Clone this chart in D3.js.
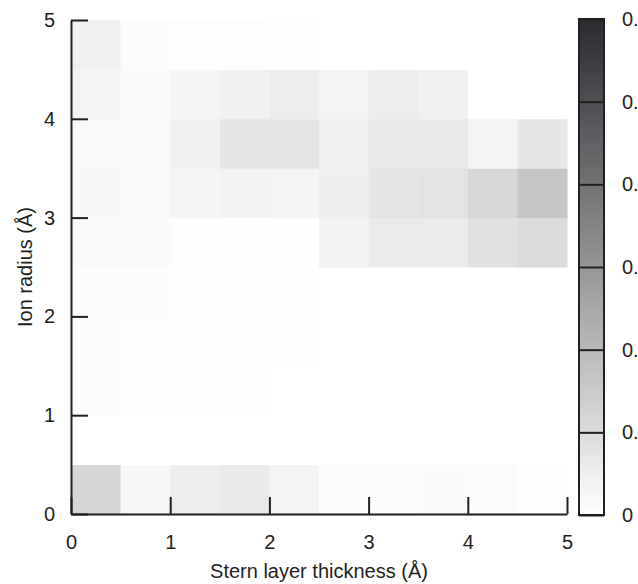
<!DOCTYPE html>
<html>
<head>
<meta charset="utf-8">
<script src="https://cdn.jsdelivr.net/npm/d3@7"></script>
<style>
  html, body { margin: 0; padding: 0; background: #fff; }
  svg { display: block; }
  text { font-family: "Liberation Sans", Arial, Helvetica, sans-serif; fill: #231f20; }
</style>
</head>
<body>
<script>
// bin starts, 0.5 Å wide
const sternThickness = [0, 0.5, 1, 1.5, 2, 2.5, 3, 3.5, 4, 4.5]
const ionRadius = [0, 0.5, 1, 1.5, 2, 2.5, 3, 3.5, 4, 4.5]
// one row per ion radius bin (bottom to top), one column per stern thickness bin
const values = [
    [0.118, 0.023, 0.055, 0.063, 0.034, 0.009, 0.011, 0.014, 0.011, 0.003],
    [0.000, 0.000, 0.000, 0.000, 0.000, 0.000, 0.000, 0.000, 0.000, 0.000],
    [0.009, 0.003, 0.003, 0.006, 0.000, 0.000, 0.000, 0.000, 0.000, 0.000],
    [0.009, 0.006, 0.006, 0.006, 0.003, 0.000, 0.000, 0.000, 0.000, 0.000],
    [0.011, 0.009, 0.006, 0.006, 0.003, 0.000, 0.000, 0.000, 0.000, 0.000],
    [0.017, 0.014, 0.006, 0.006, 0.003, 0.037, 0.060, 0.057, 0.086, 0.100],
    [0.023, 0.020, 0.032, 0.037, 0.032, 0.049, 0.075, 0.080, 0.112, 0.166],
    [0.020, 0.017, 0.043, 0.072, 0.075, 0.046, 0.066, 0.066, 0.034, 0.072],
    [0.034, 0.017, 0.029, 0.043, 0.055, 0.034, 0.055, 0.046, 0.000, 0.000],
    [0.043, 0.011, 0.006, 0.006, 0.003, 0.000, 0.000, 0.000, 0.000, 0.000]
]
const axisTicks = [0, 1, 2, 3, 4, 5]
const colorTicks = [0, 0.1, 0.2, 0.3, 0.4, 0.5, 0.6]
// colour bar labels as far as they show in the picture (cut at the right edge)
const colorTickLabels = ["0", "0.", "0.", "0.", "0.", "0.", "0."]
const binWidth = 0.5

const width = 638, height = 584
const fontSize = 20
const ink = "#231f20"

const x = d3.scaleLinear().domain([0, 5]).range([71, 567])
const y = d3.scaleLinear().domain([0, 5]).range([514, 20])
const color = d3.scaleLinear().domain([0, 0.6]).range(["#ffffff", "#2b2c30"])

const cells = []
values.forEach((row, i) => {
    row.forEach((v, j) => {
        cells.push({ sx: sternThickness[j], ir: ionRadius[i], value: v })
    })
})

const svg = d3.select("body").append("svg")
    .attr("width", width)
    .attr("height", height)

svg.append("g")
    .selectAll("rect")
    .data(cells)
    .join("rect")
    .attr("x", d => x(d.sx))
    .attr("y", d => y(d.ir + binWidth))
    .attr("width", d => x(d.sx + binWidth) - x(d.sx) + 0.5)
    .attr("height", d => y(d.ir) - y(d.ir + binWidth) + 0.5)
    .attr("fill", d => color(d.value))

// axes, ticks point inward
const styleAxis = (g) => {
    g.attr("font-family", null).attr("font-size", fontSize)
    g.select(".domain").attr("stroke", ink).attr("stroke-width", 2)
    g.selectAll(".tick line").attr("stroke", ink).attr("stroke-width", 2)
    g.selectAll(".tick text").style("fill", ink)
}

svg.append("g")
    .attr("transform", `translate(0,${y(0)})`)
    .call(d3.axisBottom(x).tickValues(axisTicks).tickFormat(d3.format("d"))
        .tickSizeInner(-17).tickSizeOuter(0).tickPadding(21))
    .call(styleAxis)

svg.append("g")
    .attr("transform", `translate(${x(0)},0)`)
    .call(d3.axisLeft(y).tickValues(axisTicks).tickFormat(d3.format("d"))
        .tickSizeInner(-17).tickSizeOuter(0).tickPadding(16))
    .call(styleAxis)

svg.append("text")
    .attr("x", (x(0) + x(5)) / 2)
    .attr("y", 578)
    .attr("text-anchor", "middle")
    .attr("font-size", fontSize)
    .text("Stern layer thickness (Å)")

svg.append("text")
    .attr("transform", `translate(32,${(y(0) + y(5)) / 2}) rotate(-90)`)
    .attr("text-anchor", "middle")
    .attr("font-size", fontSize)
    .text("Ion radius (Å)")

// colour bar
const cb = { x0: 579, x1: 604 }
const cy = d3.scaleLinear().domain([0, 0.6]).range([515, 19])

const grad = svg.append("defs").append("linearGradient")
    .attr("id", "cbar")
    .attr("x1", 0).attr("y1", 1)
    .attr("x2", 0).attr("y2", 0)
grad.selectAll("stop")
    .data(colorTicks)
    .join("stop")
    .attr("offset", d => d / 0.6)
    .attr("stop-color", d => color(d))

svg.append("rect")
    .attr("x", cb.x0)
    .attr("y", cy(0.6))
    .attr("width", cb.x1 - cb.x0)
    .attr("height", cy(0) - cy(0.6))
    .attr("fill", "url(#cbar)")
    .attr("stroke", ink)
    .attr("stroke-width", 2)

svg.append("g")
    .attr("transform", `translate(${cb.x1},0)`)
    .call(d3.axisRight(cy).tickValues(colorTicks)
        .tickFormat((d, i) => colorTickLabels[i])
        .tickSizeInner(-(cb.x1 - cb.x0)).tickSizeOuter(0).tickPadding(18))
    .call(styleAxis)
    .call(g => g.select(".domain").remove())
</script>
</body>
</html>
